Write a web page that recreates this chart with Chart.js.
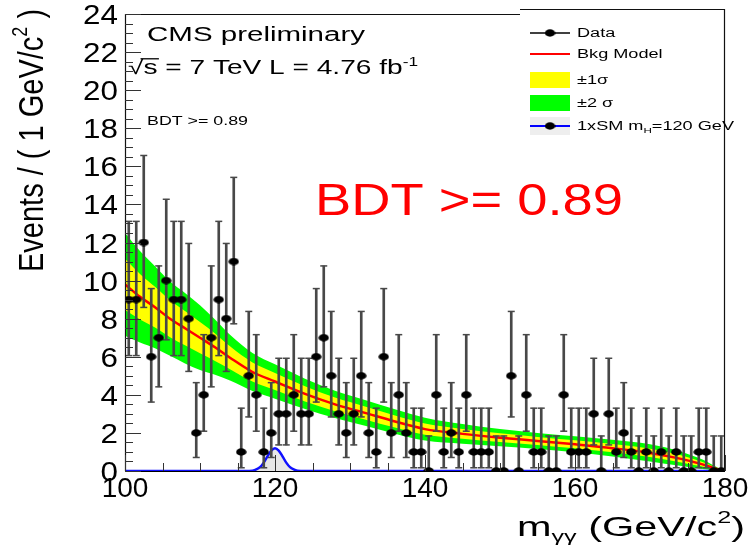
<!DOCTYPE html>
<html>
<head>
<meta charset="utf-8">
<script src="https://cdn.jsdelivr.net/npm/chart.js@4.4.0/dist/chart.umd.min.js"></script>
<style>
html, body { margin: 0; padding: 0; background: #fff; }
#wrap { width: 752px; height: 548px; }
</style>
</head>
<body>
<div id="wrap"><canvas id="chart" width="752" height="548"></canvas></div>
<script>
// diphoton mass spectrum, BDT >= 0.89 category, 1 GeV bins
const binCenters = [
    100.5, 101.5, 102.5, 103.5, 104.5, 105.5, 106.5, 107.5, 108.5, 109.5,
    110.5, 111.5, 112.5, 113.5, 114.5, 115.5, 116.5, 117.5, 118.5, 119.5,
    120.5, 121.5, 122.5, 123.5, 124.5, 125.5, 126.5, 127.5, 128.5, 129.5,
    130.5, 131.5, 132.5, 133.5, 134.5, 135.5, 136.5, 137.5, 138.5, 139.5,
    140.5, 141.5, 142.5, 143.5, 144.5, 145.5, 146.5, 147.5, 148.5, 149.5,
    150.5, 151.5, 152.5, 153.5, 154.5, 155.5, 156.5, 157.5, 158.5, 159.5,
    160.5, 161.5, 162.5, 163.5, 164.5, 165.5, 166.5, 167.5, 168.5, 169.5,
    170.5, 171.5, 172.5, 173.5, 174.5, 175.5, 176.5, 177.5, 178.5, 179.5
];
const counts = [
    9, 9, 12, 6, 7, 10, 9, 9, 8, 2,
    4, 7, 9, 8, 11, 1, 5, 4, 1, 2,
    3, 3, 4, 3, 3, 6, 7, 5, 3, 2,
    3, 5, 2, 1, 6, 2, 4, 2, 1, 1,
    0, 4, 1, 2, 1, 4, 1, 1, 1, 0,
    0, 5, 0, 4, 1, 1, 0, 0, 4, 1,
    1, 1, 3, 0, 3, 1, 2, 1, 0, 1,
    0, 1, 0, 1, 0, 0, 1, 1, 0, 0
];
// error bar ends, indexed by number of events
const errLow  = [0, 0.17, 0.71, 1.37, 2.09, 2.84, 3.62, 4.42, 5.23, 6.06, 6.89, 7.73, 8.59];
const errHigh = [1.84, 3.30, 4.64, 5.92, 7.16, 8.38, 9.58, 10.77, 11.95, 13.11, 14.27, 15.42, 16.57];

// background model and its uncertainty bands
const modelX = [100, 102, 104, 106, 108, 110, 112, 114, 117, 120, 124, 128, 132, 136, 140, 145, 150, 155, 160, 165, 170, 174, 177, 179, 180];
const modelY = [9.8, 9.15, 8.6, 8.0, 7.5, 7.0, 6.5, 5.95, 5.2, 4.7, 4.05, 3.5, 3.05, 2.6, 2.2, 1.95, 1.75, 1.58, 1.4, 1.2, 0.95, 0.65, 0.35, 0.1, 0];
const sigma1 = [1.35, 1.2, 1.07, 0.97, 0.9, 0.82, 0.72, 0.6, 0.5, 0.45, 0.4, 0.36, 0.34, 0.32, 0.3, 0.26, 0.23, 0.21, 0.21, 0.22, 0.22, 0.19, 0.12, 0.04, 0];
const sigma2 = [2.7, 2.4, 2.15, 1.95, 1.85, 1.7, 1.45, 1.2, 1.0, 0.9, 0.8, 0.72, 0.68, 0.64, 0.6, 0.52, 0.45, 0.42, 0.42, 0.44, 0.45, 0.38, 0.25, 0.08, 0];

// 1xSM signal, mH = 120 GeV
const signalX = [100, 116, 117, 117.5, 118, 118.5, 119, 119.5, 120, 120.5, 121, 121.5, 122, 122.5, 123, 124, 180];
const signalY = [0, 0, 0.02, 0.08, 0.2, 0.44, 0.77, 1.07, 1.2, 1.07, 0.77, 0.44, 0.2, 0.08, 0.02, 0, 0];

const xTickLabels = [100, 120, 140, 160, 180];
const yTickLabels = [0, 2, 4, 6, 8, 10, 12, 14, 16, 18, 20, 22, 24];

const FONT = '"Liberation Sans", Arial, Helvetica, sans-serif';

// filled ellipse used as the data marker (the picture is a bit stretched sideways)
function makeDot(w, h, color) {
    const c = document.createElement('canvas');
    c.width = w;
    c.height = h;
    const g = c.getContext('2d');
    g.fillStyle = color;
    g.beginPath();
    g.ellipse(w / 2, h / 2, w / 2 - 0.3, h / 2 - 0.3, 0, 0, Math.PI * 2);
    g.fill();
    return c;
}
const dot = makeDot(11, 8, '#000');

// text runs: [{t, size, dy, over}]
function runsWidth(ctx, runs) {
    let w = 0;
    runs.forEach(r => {
        ctx.font = r.size + 'px ' + FONT;
        w += ctx.measureText(r.t).width;
    });
    return w;
}
function paintRuns(ctx, runs, color) {
    ctx.fillStyle = color;
    ctx.strokeStyle = color;
    ctx.textBaseline = 'alphabetic';
    ctx.textAlign = 'left';
    let cx = 0;
    runs.forEach(r => {
        ctx.font = r.size + 'px ' + FONT;
        const w = ctx.measureText(r.t).width;
        ctx.fillText(r.t, cx, r.dy || 0);
        if (r.over) {
            ctx.lineWidth = 1.3;
            ctx.beginPath();
            ctx.moveTo(cx - 2, -r.size * 0.78);
            ctx.lineTo(cx + w + 1, -r.size * 0.78);
            ctx.stroke();
        }
        cx += w;
    });
}
// draw runs starting at x (baseline y), stretched to a given width
function drawFit(ctx, runs, x, y, width, color) {
    const w = runsWidth(ctx, runs);
    ctx.save();
    ctx.translate(x, y);
    ctx.scale(width / w, 1);
    paintRuns(ctx, runs, color);
    ctx.restore();
}

// frame, ROOT style ticks, texts and legend
const rootPlot = {
    id: 'rootPlot',
    beforeDatasetsDraw(chart) {
        const { ctx, chartArea: a } = chart;
        ctx.save();
        ctx.strokeStyle = '#000';
        ctx.lineWidth = 1;
        ctx.beginPath();
        ctx.moveTo(a.left, a.bottom + 0.5);
        ctx.lineTo(a.right, a.bottom + 0.5);
        ctx.stroke();
        ctx.restore();
    },
    afterDatasetsDraw(chart) {
        const { ctx, chartArea: a } = chart;
        const xs = chart.scales.x;
        const ys = chart.scales.y;
        ctx.save();
        ctx.strokeStyle = '#111';
        ctx.lineWidth = 1.2;
        ctx.beginPath();
        // left axis, top, right
        ctx.moveTo(a.left + 0.5, a.bottom);
        ctx.lineTo(a.left + 0.5, a.top + 0.5);
        ctx.lineTo(520, a.top + 0.5);
        ctx.moveTo(520, 9.5);
        ctx.lineTo(a.right - 0.5, 9.5);
        ctx.lineTo(a.right - 0.5, a.bottom);
        ctx.stroke();

        // y ticks: major every 2, minor every 0.5
        ctx.lineWidth = 1;
        ctx.strokeStyle = '#333';
        ctx.beginPath();
        for (let v = ys.min; v <= ys.max + 1e-6; v += 0.5) {
            const py = Math.round(ys.getPixelForValue(v)) + 0.5;
            const len = yTickLabels.includes(v) ? 16 : 8;
            ctx.moveTo(a.left, py);
            ctx.lineTo(a.left + len, py);
        }
        // x ticks: major every 20, minor every 5
        for (let v = xs.min; v <= xs.max + 1e-6; v += 5) {
            const px = Math.round(xs.getPixelForValue(v)) + 0.5;
            const len = xTickLabels.includes(v) ? 16 : 8;
            ctx.moveTo(px, a.bottom);
            ctx.lineTo(px, a.bottom - len);
        }
        ctx.stroke();
        ctx.restore();
    },
    afterDraw(chart) {
        const { ctx } = chart;
        const xs = chart.scales.x;
        const ys = chart.scales.y;
        ctx.save();

        // tick labels
        ctx.fillStyle = '#000';
        ctx.font = '28px ' + FONT;
        ctx.textBaseline = 'alphabetic';
        ctx.textAlign = 'center';
        xTickLabels.forEach(v => {
            ctx.fillText(String(v), xs.getPixelForValue(v), 497);
        });
        yTickLabels.forEach(v => {
            const py = ys.getPixelForValue(v);
            ctx.save();
            ctx.translate(118, py + 10);
            ctx.scale(1.12, 1);
            ctx.textAlign = 'right';
            ctx.fillText(String(v), 0, 0);
            ctx.restore();
        });

        // axis titles
        const yTitle = [
            { t: 'Events / ( 1 GeV/c', size: 29 },
            { t: '2', size: 18, dy: -13 },
            { t: ' )', size: 29 }
        ];
        ctx.save();
        ctx.translate(43, 272);
        ctx.scale(1.2, 1);
        ctx.rotate(-Math.PI / 2);
        paintRuns(ctx, yTitle, '#000');
        ctx.restore();

        const xTitle = [
            { t: 'm', size: 28 },
            { t: 'γγ', size: 17, dy: 6 },
            { t: ' (GeV/c', size: 28 },
            { t: '2', size: 17, dy: -13 },
            { t: ')', size: 28 }
        ];
        drawFit(ctx, xTitle, 517, 536, 228, '#000');

        // labels inside the frame
        drawFit(ctx, [{ t: 'CMS preliminary', size: 19.5 }], 147, 41, 218, '#000');
        drawFit(ctx, [
            { t: '√', size: 19.5 },
            { t: 's', size: 19.5, over: true },
            { t: ' = 7 TeV L = 4.76 fb', size: 19.5 },
            { t: '-1', size: 12, dy: -8 }
        ], 128, 74, 290, '#000');
        drawFit(ctx, [{ t: 'BDT >= 0.89', size: 12 }], 147, 125, 101, '#000');
        drawFit(ctx, [{ t: 'BDT >= 0.89', size: 44 }], 315, 215, 308, '#ff0000');

        // legend
        const lx0 = 530, lx1 = 570, lxm = 550, tx = 577;
        ctx.lineWidth = 1.5;
        ctx.strokeStyle = '#000';
        ctx.beginPath();
        ctx.moveTo(lx0, 33);
        ctx.lineTo(lx1, 33);
        ctx.stroke();
        ctx.drawImage(dot, lxm - 5.5, 33 - 4);

        ctx.strokeStyle = '#ff0000';
        ctx.lineWidth = 2;
        ctx.beginPath();
        ctx.moveTo(lx0, 54);
        ctx.lineTo(lx1, 54);
        ctx.stroke();

        ctx.fillStyle = '#ffff00';
        ctx.fillRect(lx0, 72, lx1 - lx0, 16);
        ctx.fillStyle = '#00ff00';
        ctx.fillRect(lx0, 95, lx1 - lx0, 16);
        ctx.fillStyle = '#eeeeee';
        ctx.fillRect(lx0, 117, lx1 - lx0, 18);
        ctx.strokeStyle = '#0000ff';
        ctx.lineWidth = 2;
        ctx.beginPath();
        ctx.moveTo(lx0, 126);
        ctx.lineTo(lx1, 126);
        ctx.stroke();
        ctx.drawImage(dot, lxm - 5.5, 126 - 4);

        const ls = 12.5, lsx = 1.45;
        const legendText = [
            [[{ t: 'Data', size: ls }], 37],
            [[{ t: 'Bkg Model', size: ls }], 58],
            [[{ t: '±1σ', size: ls }], 84],
            [[{ t: '±2 σ', size: ls }], 107],
            [[{ t: '1xSM m', size: ls }, { t: 'H', size: 8, dy: 3 }, { t: '=120 GeV', size: ls }], 130]
        ];
        legendText.forEach(([runs, by]) => {
            drawFit(ctx, runs, tx, by, runsWidth(ctx, runs) * lsx, '#000');
        });

        ctx.restore();
    }
};

// tables for the library
const greenHi = modelX.map((x, i) => ({ x, y: modelY[i] + sigma2[i] }));
const greenLo = modelX.map((x, i) => ({ x, y: Math.max(0, modelY[i] - sigma2[i]) }));
const yellowHi = modelX.map((x, i) => ({ x, y: modelY[i] + sigma1[i] }));
const yellowLo = modelX.map((x, i) => ({ x, y: Math.max(0, modelY[i] - sigma1[i]) }));
const modelPts = modelX.map((x, i) => ({ x, y: modelY[i] }));
const signalPts = signalX.map((x, i) => ({ x, y: signalY[i] }));
const dataPts = binCenters.map((x, i) => ({ x, y: counts[i] }));
const errBars = binCenters.map((x, i) => ({ x, y: [errLow[counts[i]], errHigh[counts[i]]] }));
const errCaps = [];
binCenters.forEach((x, i) => {
    errCaps.push({ x, y: errLow[counts[i]] });
    errCaps.push({ x, y: errHigh[counts[i]] });
});

const band = {
    type: 'line',
    borderColor: 'transparent',
    borderWidth: 0,
    pointRadius: 0,
    cubicInterpolationMode: 'monotone'
};

new Chart(document.getElementById('chart'), {
    type: 'scatter',
    data: {
        datasets: [
            { ...band, label: '±2σ hi', data: greenHi, fill: 1, backgroundColor: '#00ff00', order: 9 },
            { ...band, label: '±2σ lo', data: greenLo, fill: false, order: 9 },
            { ...band, label: '±1σ hi', data: yellowHi, fill: 3, backgroundColor: '#ffff00', order: 8 },
            { ...band, label: '±1σ lo', data: yellowLo, fill: false, order: 8 },
            {
                type: 'line', label: 'Bkg Model', data: modelPts,
                borderColor: '#ff0000', borderWidth: 2.5, pointRadius: 0,
                cubicInterpolationMode: 'monotone', fill: false, order: 7
            },
            {
                type: 'line', label: '1xSM mH=120 GeV', data: signalPts,
                borderColor: '#1010ff', borderWidth: 2.5, pointRadius: 0,
                backgroundColor: 'rgba(215,215,215,0.6)', fill: 'origin',
                cubicInterpolationMode: 'monotone', order: 6
            },
            {
                type: 'bar', label: 'err', data: errBars,
                backgroundColor: '#484848', barThickness: 2, order: 3
            },
            {
                type: 'scatter', label: 'caps', data: errCaps,
                pointStyle: 'line', pointRadius: 3.5, borderColor: '#484848', borderWidth: 1.5, order: 2
            },
            {
                type: 'scatter', label: 'Data', data: dataPts,
                pointStyle: dot, pointRadius: 5, order: 1
            }
        ]
    },
    options: {
        responsive: false,
        animation: false,
        devicePixelRatio: 1,
        layout: { padding: { left: 125, top: 14, right: 27, bottom: 77 } },
        plugins: {
            legend: { display: false },
            tooltip: { enabled: false }
        },
        scales: {
            x: { type: 'linear', min: 100, max: 180, offset: false, display: false },
            y: { type: 'linear', min: 0, max: 24, display: false }
        }
    },
    plugins: [rootPlot]
});
</script>
</body>
</html>
